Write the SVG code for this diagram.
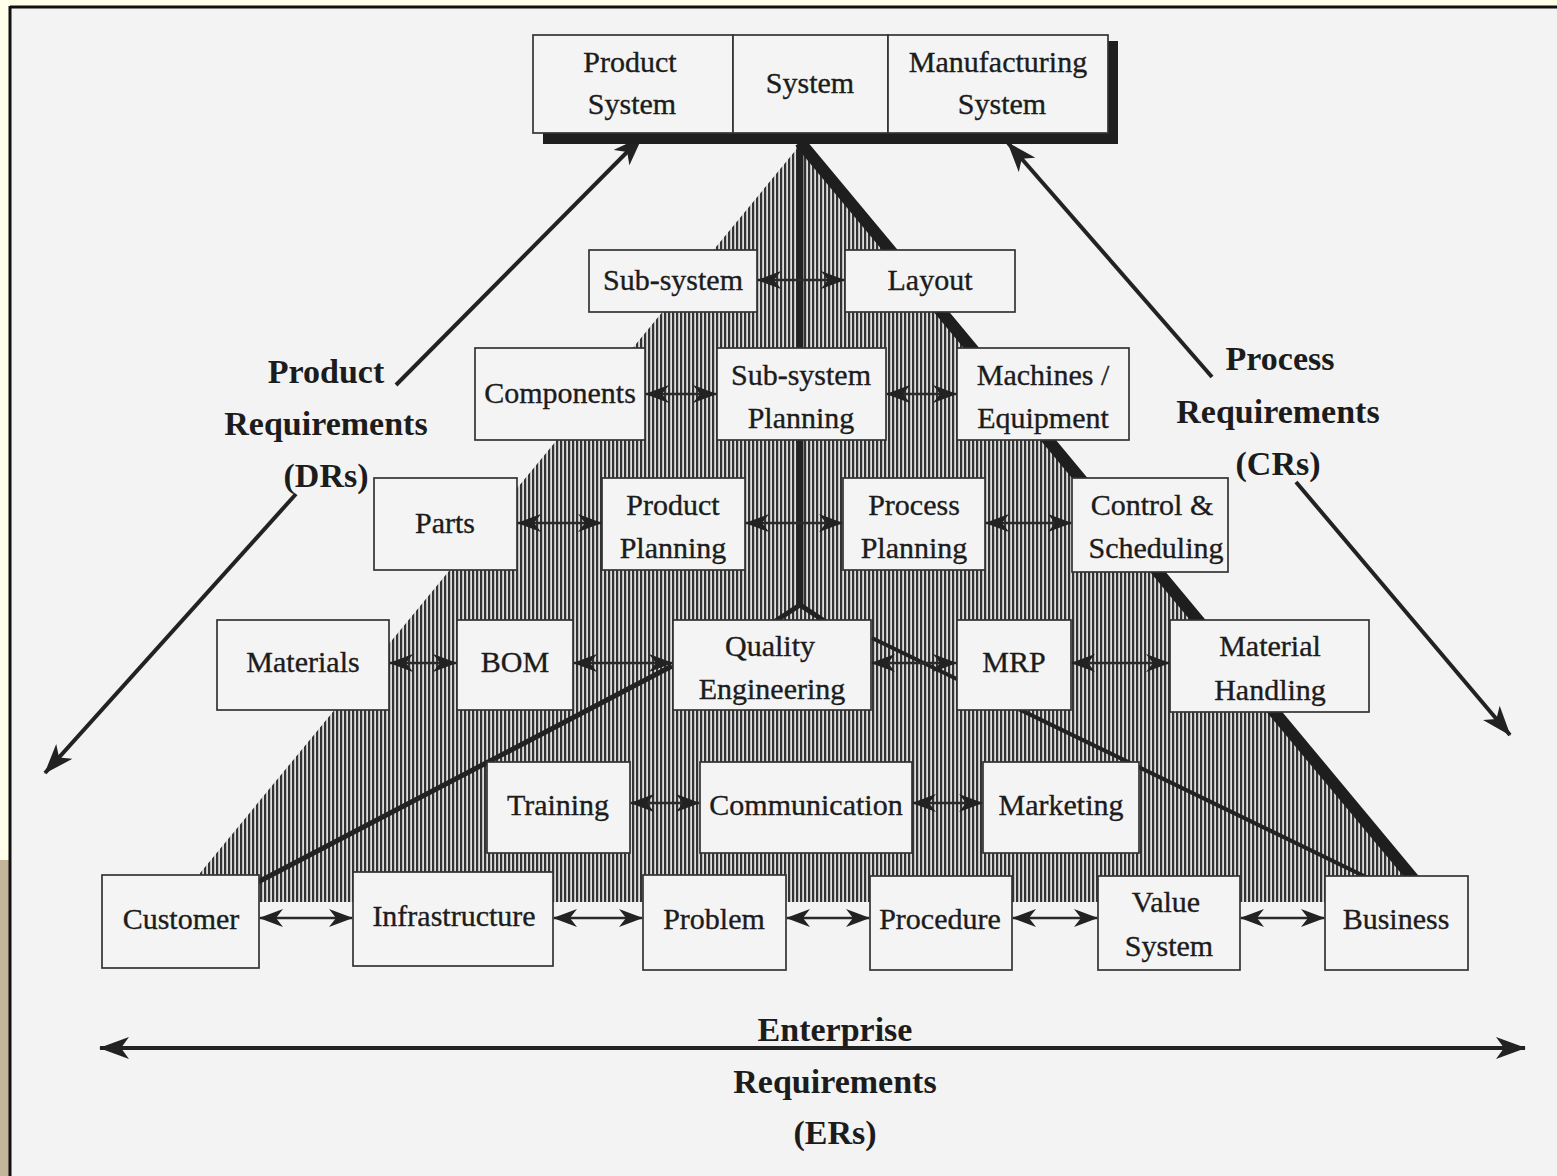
<svg xmlns="http://www.w3.org/2000/svg" width="1557" height="1176" viewBox="0 0 1557 1176">
<style>
.box{fill:#f4f4f4;stroke:#333;stroke-width:1.7}
.t{font-family:"Liberation Serif","Times New Roman",serif;font-size:30px;fill:#1c1c1c;stroke:#1c1c1c;stroke-width:0.35;text-anchor:middle}
.lbl{font-family:"Liberation Serif","Times New Roman",serif;font-size:34px;font-weight:bold;fill:#1c1c1c;text-anchor:middle}
.link{stroke:#2a2a2a;stroke-width:2.5;fill:none;marker-start:url(#ah);marker-end:url(#ah)}
.big{stroke:#222;stroke-width:4;fill:none}
</style>
<defs>
<pattern id="hatch" patternUnits="userSpaceOnUse" width="4" height="10">
<rect x="0" y="0" width="4" height="10" fill="#dedede"/>
<rect x="0" y="0" width="2.2" height="10" fill="#333"/>
</pattern>
<marker id="ah" viewBox="0 0 24 18" refX="23" refY="9" markerWidth="24" markerHeight="18" markerUnits="userSpaceOnUse" orient="auto-start-reverse">
<path d="M0,0 L24,9 L0,18 L7,9 Z" fill="#222"/>
</marker>
<marker id="bh" viewBox="0 0 30 22" refX="29" refY="11" markerWidth="30" markerHeight="22" markerUnits="userSpaceOnUse" orient="auto-start-reverse">
<path d="M0,0 L30,11 L0,22 L8,11 Z" fill="#222"/>
</marker>
</defs>

<!-- page -->
<rect x="0" y="0" width="1557" height="1176" fill="#ffffea"/>
<rect x="0" y="860" width="10" height="316" fill="#c4b59a"/>
<rect x="10" y="7" width="1547" height="1169" fill="#f3f3f3"/>
<line x1="10" y1="7" x2="1557" y2="7" stroke="#111" stroke-width="3"/>
<line x1="10" y1="6" x2="10" y2="1176" stroke="#111" stroke-width="3"/>

<!-- hatched pyramid -->
<polygon points="800,145 1416,882 1420,902 196,902 196,878" fill="url(#hatch)"/>

<g id="connectors">
<line x1="800" y1="145" x2="800" y2="607" stroke="#222" stroke-width="7"/>
<polyline points="774,622 800,605 826,622" fill="none" stroke="#222" stroke-width="5"/>
<line x1="800" y1="142" x2="1416" y2="882" stroke="#1e1e1e" stroke-width="12"/>
<line x1="672" y1="666" x2="258" y2="882" stroke="#222" stroke-width="5"/>
<line x1="872" y1="638" x2="1368" y2="878" stroke="#222" stroke-width="4"/>

<line class="big" x1="642" y1="137" x2="396" y2="385" marker-start="url(#bh)"/>
<line class="big" x1="296" y1="494" x2="45" y2="773" marker-end="url(#bh)"/>
<line class="big" x1="1008" y1="143" x2="1212" y2="377" marker-start="url(#bh)"/>
<line class="big" x1="1296" y1="482" x2="1510" y2="735" marker-end="url(#bh)"/>
<line class="big" x1="100" y1="1048" x2="1525" y2="1048" marker-start="url(#bh)" marker-end="url(#bh)"/>
</g>

<g id="top-shadow">
<rect x="543" y="133" width="575" height="11" fill="#1e1e1e"/>
<rect x="1108" y="41" width="10" height="103" fill="#1e1e1e"/>
</g>
<g id="product-system"><rect class="box" x="533" y="35" width="200" height="98"/><text class="t" x="630" y="72">Product</text><text class="t" x="632" y="114">System</text></g>
<g id="system"><rect class="box" x="733" y="35" width="155" height="98"/><text class="t" x="810" y="93">System</text></g>
<g id="manufacturing-system"><rect class="box" x="888" y="35" width="220" height="98"/><text class="t" x="998" y="72">Manufacturing</text><text class="t" x="1002" y="114">System</text></g>

<g id="sub-system"><rect class="box" x="589" y="250" width="168" height="62"/><text class="t" x="673" y="290">Sub-system</text></g>
<g id="layout"><rect class="box" x="845" y="250" width="170" height="62"/><text class="t" x="930" y="290">Layout</text></g>
<g id="components"><rect class="box" x="475" y="348" width="170" height="92"/><text class="t" x="560" y="403">Components</text></g>
<g id="sub-system-planning"><rect class="box" x="717" y="348" width="169" height="92"/><text class="t" x="801" y="385">Sub-system</text><text class="t" x="801" y="428">Planning</text></g>
<g id="machines-equipment"><rect class="box" x="957" y="348" width="172" height="92"/><text class="t" x="1043" y="385">Machines /</text><text class="t" x="1043" y="428">Equipment</text></g>
<g id="parts"><rect class="box" x="374" y="478" width="143" height="92"/><text class="t" x="445" y="533">Parts</text></g>
<g id="product-planning"><rect class="box" x="602" y="478" width="143" height="92"/><text class="t" x="673" y="515">Product</text><text class="t" x="673" y="558">Planning</text></g>
<g id="process-planning"><rect class="box" x="843" y="478" width="142" height="92"/><text class="t" x="914" y="515">Process</text><text class="t" x="914" y="558">Planning</text></g>
<g id="control-scheduling"><rect class="box" x="1072" y="478" width="156" height="94"/><text class="t" x="1152" y="515">Control &amp;</text><text class="t" x="1156" y="558">Scheduling</text></g>
<g id="materials"><rect class="box" x="217" y="620" width="172" height="90"/><text class="t" x="303" y="672">Materials</text></g>
<g id="bom"><rect class="box" x="457" y="620" width="116" height="90"/><text class="t" x="515" y="672">BOM</text></g>
<g id="quality-engineering"><rect class="box" x="673" y="620" width="198" height="90"/><text class="t" x="770" y="656">Quality</text><text class="t" x="772" y="699">Engineering</text></g>
<g id="mrp"><rect class="box" x="957" y="620" width="114" height="90"/><text class="t" x="1014" y="672">MRP</text></g>
<g id="material-handling"><rect class="box" x="1170" y="620" width="199" height="92"/><text class="t" x="1270" y="656">Material</text><text class="t" x="1270" y="700">Handling</text></g>
<g id="training"><rect class="box" x="487" y="762" width="143" height="91"/><text class="t" x="558" y="815">Training</text></g>
<g id="communication"><rect class="box" x="700" y="762" width="212" height="91"/><text class="t" x="806" y="815">Communication</text></g>
<g id="marketing"><rect class="box" x="983" y="762" width="156" height="91"/><text class="t" x="1061" y="815">Marketing</text></g>
<g id="customer"><rect class="box" x="102" y="875" width="157" height="93"/><text class="t" x="181" y="929">Customer</text></g>
<g id="infrastructure"><rect class="box" x="353" y="872" width="200" height="94"/><text class="t" x="454" y="926">Infrastructure</text></g>
<g id="problem"><rect class="box" x="643" y="875" width="143" height="95"/><text class="t" x="714" y="929">Problem</text></g>
<g id="procedure"><rect class="box" x="870" y="876" width="142" height="94"/><text class="t" x="940" y="929">Procedure</text></g>
<g id="value-system"><rect class="box" x="1098" y="876" width="142" height="94"/><text class="t" x="1166" y="912">Value</text><text class="t" x="1169" y="956">System</text></g>
<g id="business"><rect class="box" x="1325" y="876" width="143" height="94"/><text class="t" x="1396" y="929">Business</text></g>

<g id="links">
<line class="link" x1="758" y1="280" x2="844" y2="280"/>
<line class="link" x1="646" y1="394" x2="716" y2="394"/>
<line class="link" x1="887" y1="394" x2="956" y2="394"/>
<line class="link" x1="518" y1="523" x2="601" y2="523"/>
<line class="link" x1="746" y1="523" x2="842" y2="523"/>
<line class="link" x1="986" y1="523" x2="1071" y2="523"/>
<line class="link" x1="390" y1="663" x2="456" y2="663"/>
<line class="link" x1="574" y1="663" x2="672" y2="663"/>
<line class="link" x1="872" y1="663" x2="956" y2="663"/>
<line class="link" x1="1072" y1="663" x2="1169" y2="663"/>
<line class="link" x1="631" y1="803" x2="699" y2="803"/>
<line class="link" x1="913" y1="803" x2="982" y2="803"/>
<line class="link" x1="260" y1="918" x2="352" y2="918"/>
<line class="link" x1="554" y1="918" x2="642" y2="918"/>
<line class="link" x1="787" y1="918" x2="869" y2="918"/>
<line class="link" x1="1013" y1="918" x2="1097" y2="918"/>
<line class="link" x1="1241" y1="918" x2="1324" y2="918"/>
</g>

<g id="product-requirements"><text class="lbl" x="326" y="383">Product</text><text class="lbl" x="326" y="435">Requirements</text><text class="lbl" x="326" y="487">(DRs)</text></g>
<g id="process-requirements"><text class="lbl" x="1280" y="370">Process</text><text class="lbl" x="1278" y="423">Requirements</text><text class="lbl" x="1278" y="475">(CRs)</text></g>
<g id="enterprise-requirements"><text class="lbl" x="835" y="1041">Enterprise</text><text class="lbl" x="835" y="1093">Requirements</text><text class="lbl" x="835" y="1144">(ERs)</text></g>
</svg>
